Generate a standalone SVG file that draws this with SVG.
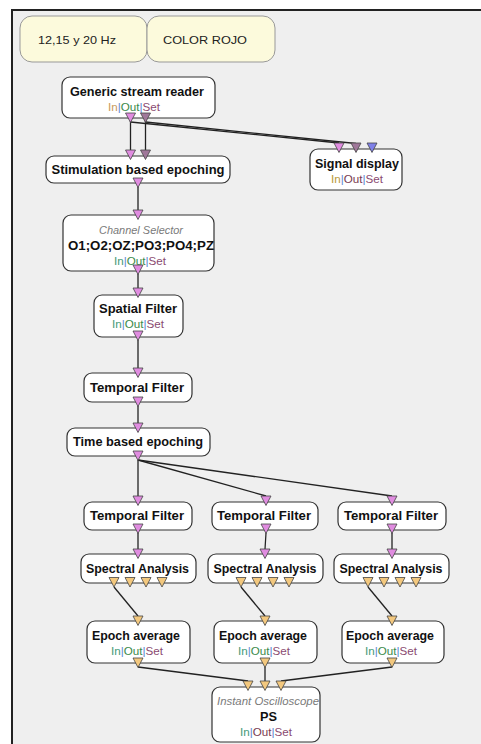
<svg xmlns="http://www.w3.org/2000/svg" xmlns:xlink="http://www.w3.org/1999/xlink" width="481" height="744" viewBox="0 0 481 744">
<style>
.bg{fill:#efefef}
.frame{stroke:#222;stroke-width:2;fill:none}
.box{fill:#ffffff;stroke:#333;stroke-width:1.2}
.cmt{fill:#fcfadc;stroke:#999;stroke-width:1}
.t{font-family:"Liberation Sans",Arial,sans-serif;font-weight:bold;font-size:12px;fill:#111;text-anchor:middle}
.c{font-family:"Liberation Sans",Arial,sans-serif;font-size:11px;fill:#222;text-anchor:middle}
.it{font-family:"Liberation Sans",Arial,sans-serif;font-style:italic;font-size:11px;fill:#7a7a7a;text-anchor:middle}
.ios{font-family:"Liberation Sans",Arial,sans-serif;font-size:11px;text-anchor:middle}
.sep{fill:#5a86d0}
.inA{fill:#c89a5a}.inB{fill:#3f9a78}.inC{fill:#b89a3a}
.outG{fill:#3a8a4a}.outM{fill:#7a3a50}
.set{fill:#8a4a70}
.pk{fill:#e08ce0;stroke:#444;stroke-width:0.8}
.mv{fill:#a0789a;stroke:#444;stroke-width:0.8}
.bl{fill:#7f80e8;stroke:#444;stroke-width:0.8}
.tn{fill:#f3c87e;stroke:#444;stroke-width:0.8}
.ln{stroke:#222;stroke-width:1.3;fill:none}
</style>
<defs>
<path id="tri" d="M-5,0 L5,0 L0,9.5 Z"/>
</defs>
<rect x="0" y="0" width="481" height="744" fill="#ffffff"/>
<rect class="bg" x="12" y="10" width="469" height="734"/>
<path class="frame" d="M12,744 L12,10 L481,10"/>

<g id="comment1"><rect class="cmt" x="20" y="16" width="127" height="46" rx="12"/><text class="c" x="77" y="44" textLength="78" lengthAdjust="spacingAndGlyphs">12,15 y 20 Hz</text></g>
<g id="comment2"><rect class="cmt" x="147" y="16" width="128" height="46" rx="12"/><text class="c" x="205" y="44" textLength="84" lengthAdjust="spacingAndGlyphs">COLOR ROJO</text></g>

<g id="connectors">
<line class="ln" x1="130.5" y1="121" x2="130.5" y2="150"/>
<line class="ln" x1="145.5" y1="121" x2="145.5" y2="150"/>
<line class="ln" x1="130.5" y1="122" x2="339" y2="143"/>
<line class="ln" x1="145.5" y1="122" x2="356" y2="143.5"/>
<line class="ln" x1="138" y1="187" x2="138" y2="210"/>
<line class="ln" x1="138" y1="274" x2="138" y2="288"/>
<line class="ln" x1="138" y1="340" x2="138" y2="368"/>
<line class="ln" x1="138" y1="406" x2="138" y2="423"/>
<line class="ln" x1="138" y1="460" x2="138" y2="496"/>
<line class="ln" x1="138" y1="460" x2="266" y2="496"/>
<line class="ln" x1="138" y1="460" x2="392" y2="496"/>
<line class="ln" x1="138" y1="533" x2="138" y2="549"/>
<line class="ln" x1="266" y1="533" x2="265" y2="549"/>
<line class="ln" x1="392" y1="533" x2="392" y2="549"/>
<line class="ln" x1="114" y1="587" x2="138" y2="616"/>
<line class="ln" x1="241" y1="587" x2="265" y2="616"/>
<line class="ln" x1="368" y1="587" x2="392" y2="616"/>
<line class="ln" x1="138" y1="667" x2="248" y2="681"/>
<line class="ln" x1="265" y1="667" x2="265" y2="681"/>
<line class="ln" x1="392" y1="667" x2="281" y2="681"/>
</g>

<g id="generic_stream_reader">
<rect class="box" x="62" y="77" width="153" height="41" rx="8"/>
<text class="t" x="137" y="96" textLength="134" lengthAdjust="spacingAndGlyphs">Generic stream reader</text>
<text class="ios" x="134" y="111" textLength="52" lengthAdjust="spacingAndGlyphs"><tspan class="inA">In</tspan><tspan class="sep">|</tspan><tspan class="outG">Out</tspan><tspan class="sep">|</tspan><tspan class="set">Set</tspan></text>
<use xlink:href="#tri" x="130.5" y="113" class="pk"/>
<use xlink:href="#tri" x="145.5" y="113" class="mv"/>
</g>

<g id="stimulation_based_epoching">
<rect class="box" x="46" y="156" width="184" height="27" rx="8"/>
<text class="t" x="138" y="174" textLength="173" lengthAdjust="spacingAndGlyphs">Stimulation based epoching</text>
<use xlink:href="#tri" x="130.5" y="150" class="pk"/>
<use xlink:href="#tri" x="145.5" y="150" class="mv"/>
<use xlink:href="#tri" x="138" y="178" class="pk"/>
</g>

<g id="signal_display">
<rect class="box" x="310" y="149" width="92" height="41" rx="8"/>
<text class="t" x="357" y="168" textLength="84" lengthAdjust="spacingAndGlyphs">Signal display</text>
<text class="ios" x="357" y="183" textLength="52" lengthAdjust="spacingAndGlyphs"><tspan class="inC">In</tspan><tspan class="sep">|</tspan><tspan class="outM">Out</tspan><tspan class="sep">|</tspan><tspan class="set">Set</tspan></text>
<use xlink:href="#tri" x="339" y="143" class="pk"/>
<use xlink:href="#tri" x="356" y="143" class="mv"/>
<use xlink:href="#tri" x="372" y="143" class="bl"/>
</g>

<g id="channel_selector">
<rect class="box" x="63" y="215" width="151" height="56" rx="8"/>
<text class="it" x="141" y="234" textLength="84" lengthAdjust="spacingAndGlyphs">Channel Selector</text>
<text class="t" x="141" y="250" textLength="146" lengthAdjust="spacingAndGlyphs">O1;O2;OZ;PO3;PO4;PZ</text>
<text class="ios" x="140" y="265" textLength="52" lengthAdjust="spacingAndGlyphs"><tspan class="inB">In</tspan><tspan class="sep">|</tspan><tspan class="outG">Out</tspan><tspan class="sep">|</tspan><tspan class="set">Set</tspan></text>
<use xlink:href="#tri" x="138" y="210" class="pk"/>
<use xlink:href="#tri" x="138" y="265" class="pk"/>
</g>

<g id="spatial_filter">
<rect class="box" x="94" y="295" width="89" height="42" rx="8"/>
<text class="t" x="138" y="313" textLength="78" lengthAdjust="spacingAndGlyphs">Spatial Filter</text>
<text class="ios" x="138" y="328" textLength="52" lengthAdjust="spacingAndGlyphs"><tspan class="inB">In</tspan><tspan class="sep">|</tspan><tspan class="outG">Out</tspan><tspan class="sep">|</tspan><tspan class="set">Set</tspan></text>
<use xlink:href="#tri" x="138" y="288" class="pk"/>
<use xlink:href="#tri" x="138" y="331" class="pk"/>
</g>

<g id="temporal_filter">
<rect class="box" x="84" y="373" width="108" height="29" rx="8"/>
<text class="t" x="137" y="392" textLength="94" lengthAdjust="spacingAndGlyphs">Temporal Filter</text>
<use xlink:href="#tri" x="138" y="368" class="pk"/>
<use xlink:href="#tri" x="138" y="397" class="pk"/>
</g>

<g id="time_based_epoching">
<rect class="box" x="67" y="428" width="143" height="28" rx="8"/>
<text class="t" x="138" y="446" textLength="130" lengthAdjust="spacingAndGlyphs">Time based epoching</text>
<use xlink:href="#tri" x="138" y="423" class="pk"/>
<use xlink:href="#tri" x="138" y="451" class="pk"/>
</g>

<g id="temporal_filter_1">
<rect class="box" x="84" y="502" width="108" height="28" rx="8"/>
<text class="t" x="137" y="520" textLength="94" lengthAdjust="spacingAndGlyphs">Temporal Filter</text>
<use xlink:href="#tri" x="138" y="496" class="pk"/>
<use xlink:href="#tri" x="138" y="524" class="pk"/>
</g>
<g id="temporal_filter_2">
<rect class="box" x="212" y="502" width="106" height="28" rx="8"/>
<text class="t" x="264" y="520" textLength="94" lengthAdjust="spacingAndGlyphs">Temporal Filter</text>
<use xlink:href="#tri" x="266" y="496" class="pk"/>
<use xlink:href="#tri" x="266" y="524" class="pk"/>
</g>
<g id="temporal_filter_3">
<rect class="box" x="338" y="502" width="108" height="28" rx="8"/>
<text class="t" x="391" y="520" textLength="94" lengthAdjust="spacingAndGlyphs">Temporal Filter</text>
<use xlink:href="#tri" x="392" y="496" class="pk"/>
<use xlink:href="#tri" x="392" y="524" class="pk"/>
</g>

<g id="spectral_analysis_1">
<rect class="box" x="81" y="554" width="115" height="29" rx="8"/>
<text class="t" x="137.5" y="573" textLength="103" lengthAdjust="spacingAndGlyphs">Spectral Analysis</text>
<use xlink:href="#tri" x="138" y="549" class="pk"/>
<use xlink:href="#tri" x="114" y="577.5" class="tn"/>
<use xlink:href="#tri" x="130" y="577.5" class="tn"/>
<use xlink:href="#tri" x="146" y="577.5" class="tn"/>
<use xlink:href="#tri" x="162" y="577.5" class="tn"/>
</g>
<g id="spectral_analysis_2">
<rect class="box" x="208" y="554" width="115" height="29" rx="8"/>
<text class="t" x="265" y="573" textLength="103" lengthAdjust="spacingAndGlyphs">Spectral Analysis</text>
<use xlink:href="#tri" x="265" y="549" class="pk"/>
<use xlink:href="#tri" x="241" y="577.5" class="tn"/>
<use xlink:href="#tri" x="257" y="577.5" class="tn"/>
<use xlink:href="#tri" x="273" y="577.5" class="tn"/>
<use xlink:href="#tri" x="289" y="577.5" class="tn"/>
</g>
<g id="spectral_analysis_3">
<rect class="box" x="334" y="554" width="115" height="29" rx="8"/>
<text class="t" x="391" y="573" textLength="103" lengthAdjust="spacingAndGlyphs">Spectral Analysis</text>
<use xlink:href="#tri" x="392" y="549" class="pk"/>
<use xlink:href="#tri" x="368" y="577.5" class="tn"/>
<use xlink:href="#tri" x="384" y="577.5" class="tn"/>
<use xlink:href="#tri" x="400" y="577.5" class="tn"/>
<use xlink:href="#tri" x="416" y="577.5" class="tn"/>
</g>

<g id="epoch_average_1">
<rect class="box" x="87" y="621" width="103" height="42" rx="8"/>
<text class="t" x="136" y="640" textLength="88" lengthAdjust="spacingAndGlyphs">Epoch average</text>
<text class="ios" x="137" y="655" textLength="52" lengthAdjust="spacingAndGlyphs"><tspan class="inB">In</tspan><tspan class="sep">|</tspan><tspan class="outG">Out</tspan><tspan class="sep">|</tspan><tspan class="set">Set</tspan></text>
<use xlink:href="#tri" x="138" y="616" class="tn"/>
<use xlink:href="#tri" x="138" y="658" class="tn"/>
</g>
<g id="epoch_average_2">
<rect class="box" x="214" y="621" width="103" height="42" rx="8"/>
<text class="t" x="263" y="640" textLength="88" lengthAdjust="spacingAndGlyphs">Epoch average</text>
<text class="ios" x="264" y="655" textLength="52" lengthAdjust="spacingAndGlyphs"><tspan class="inB">In</tspan><tspan class="sep">|</tspan><tspan class="outG">Out</tspan><tspan class="sep">|</tspan><tspan class="set">Set</tspan></text>
<use xlink:href="#tri" x="265" y="616" class="tn"/>
<use xlink:href="#tri" x="265" y="658" class="tn"/>
</g>
<g id="epoch_average_3">
<rect class="box" x="342" y="621" width="102" height="42" rx="8"/>
<text class="t" x="390" y="640" textLength="88" lengthAdjust="spacingAndGlyphs">Epoch average</text>
<text class="ios" x="391" y="655" textLength="52" lengthAdjust="spacingAndGlyphs"><tspan class="inB">In</tspan><tspan class="sep">|</tspan><tspan class="outG">Out</tspan><tspan class="sep">|</tspan><tspan class="set">Set</tspan></text>
<use xlink:href="#tri" x="392" y="616" class="tn"/>
<use xlink:href="#tri" x="392" y="658" class="tn"/>
</g>

<g id="instant_oscilloscope">
<rect class="box" x="212" y="687" width="108" height="55" rx="8"/>
<text class="it" x="268" y="705" textLength="102" lengthAdjust="spacingAndGlyphs">Instant Oscilloscope</text>
<text class="t" x="268.5" y="721" textLength="17" lengthAdjust="spacingAndGlyphs">PS</text>
<text class="ios" x="266" y="736" textLength="52" lengthAdjust="spacingAndGlyphs"><tspan class="inB">In</tspan><tspan class="sep">|</tspan><tspan class="outM">Out</tspan><tspan class="sep">|</tspan><tspan class="set">Set</tspan></text>
<use xlink:href="#tri" x="248" y="681" class="tn"/>
<use xlink:href="#tri" x="265" y="681" class="tn"/>
<use xlink:href="#tri" x="281" y="681" class="tn"/>
</g>
</svg>
